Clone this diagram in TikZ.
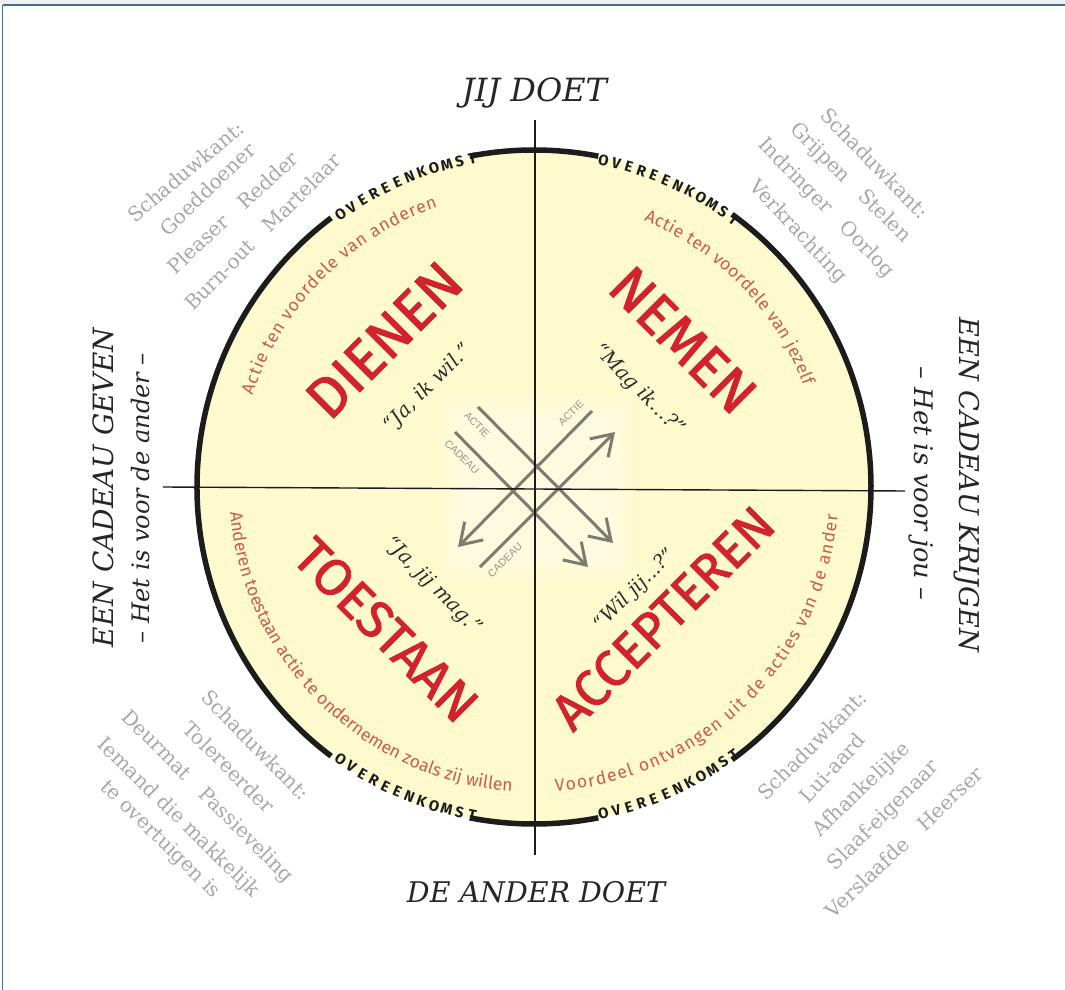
\documentclass[tikz,border=0pt]{standalone}
\usepackage{fontspec}
\usetikzlibrary{arrows.meta,decorations.text}
\newfontfamily\fira{Fira Sans}
\newfontfamily\firamed{Fira Sans}[FakeBold=1.6]
\newfontfamily\dvs{DejaVu Serif}
\newfontfamily\libs{Liberation Sans}
\definecolor{circfill}{RGB}{254,250,206}
\definecolor{titlered}{RGB}{210,34,44}
\definecolor{arcred}{RGB}{202,92,76}
\definecolor{shadowgray}{RGB}{168,168,168}
\definecolor{quotegray}{RGB}{45,45,45}
\definecolor{titleink}{RGB}{38,38,38}
\definecolor{arrowgray}{RGB}{124,124,110}
\definecolor{labelgray}{RGB}{150,150,138}
\definecolor{ink}{RGB}{28,28,28}
\definecolor{framecol}{RGB}{70,110,140}
\definecolor{stripcol}{RGB}{238,241,244}
\newcommand\fitw[2]{\resizebox{#1pt}{!}{#2}}
\newcommand\arcfont{\fira\fontsize{17.5}{17.5}\selectfont\color{arcred}}
\tikzset{
  ring/.style={draw=ink, line width=5.5pt},
  axisline/.style={draw=ink, line width=1.4pt},
  ovk/.style={font=\fira\bfseries\fontsize{15}{15}\selectfont, text=ink, inner sep=0pt},
  side/.style={font=\dvs\itshape, text=titleink, inner sep=0pt},
  quad/.style={font=\firamed, text=titlered, inner sep=0pt},
  quotetxt/.style={font=\dvs\itshape, text=quotegray, inner sep=0pt},
  shadow/.style={font=\dvs\fontsize{20}{20}\selectfont, text=shadowgray, inner sep=0pt},
  arr/.style={draw=arrowgray, line width=3pt, -{Straight Barb[length=20pt,width=26pt]}},
  arrlabel/.style={font=\libs\fontsize{10.5}{10.5}\selectfont, text=labelgray, inner sep=0pt}
}
\begin{document}
\begin{tikzpicture}[x=1pt,y=1pt]
\useasboundingbox (-534,-503) rectangle (531,487);
\fill[white] (-534,-503) rectangle (531,487);
% frame
\fill[stripcol] (-534,482) rectangle (531,487);
\draw[framecol, line width=1.2pt] (-531.3,482) -- (531,482);
\draw[framecol, line width=1.2pt] (-531.3,482) -- (-531.3,-503);

% disc
\fill[circfill] (0,0) circle[radius=337];
\foreach \d in {0,10,20}
  \fill[white, opacity=0.14] (-95+\d,-93+\d) rectangle (101-\d,92-\d);

% thick ring segments
\draw[ring] (79:337) arc[start angle=79, end angle=101, radius=337];
\draw[ring] (-54:337) arc[start angle=-54, end angle=54, radius=337];
\draw[ring] (-101:337) arc[start angle=-101, end angle=-79, radius=337];
\draw[ring] (127:337) arc[start angle=127, end angle=233, radius=337];

% OVEREENKOMST labels
\foreach \ch [count=\i from 0] in {O,V,E,R,E,E,N,K,O,M,S,T}{
  \pgfmathsetmacro\atl{125.4-2.25*\i}
  \pgfmathsetmacro\atr{78.0-2.25*\i}
  \pgfmathsetmacro\abl{-125.4+2.25*\i}
  \pgfmathsetmacro\abr{-78.0+2.25*\i}
  \node[ovk, rotate=\atl-90] (ovtl\i) at (\atl:334) {\ch};
  \node[ovk, rotate=\atr-90] (ovtr\i) at (\atr:334) {\ch};
  \node[ovk, rotate=\abl+90] (ovbl\i) at (\abl:334) {\ch};
  \node[ovk, rotate=\abr+90] (ovbr\i) at (\abr:334) {\ch};
}

% arc texts
\path[decorate, decoration={text along path, text align=fit to path,
  text={|\arcfont|Actie ten voordele van anderen}}]
  (162:296) arc[start angle=162, end angle=109, radius=296];
\path[decorate, decoration={text along path, text align=fit to path,
  text={|\arcfont|Actie ten voordele van jezelf}}]
  (67.6:288) arc[start angle=67.6, end angle=20.6, radius=288];
\path[decorate, decoration={text along path, text align=fit to path,
  text={|\arcfont|Anderen toestaan actie te ondernemen zoals zij willen}}]
  (184.8:305) arc[start angle=184.8, end angle=265.4, radius=305];
\path[decorate, decoration={text along path, text align=fit to path,
  text={|\arcfont|Voordeel ontvangen uit de acties van de ander}}]
  (-86:305) arc[start angle=-86, end angle=-5.3, radius=305];

% central arrows
\coordinate (a1s) at (-56,80);  \coordinate (a1e) at (79,-56);
\coordinate (a2s) at (-79,55);  \coordinate (a2e) at (54,-80);
\coordinate (a3s) at (58,76);   \coordinate (a3e) at (-76,-60);
\coordinate (a4s) at (-54,-80); \coordinate (a4e) at (81,55);
\draw[arr] (a1s) -- (a1e);
\draw[arr] (a2s) -- (a2e);
\draw[arr] (a3s) -- (a3e);
\draw[arr] (a4s) -- (a4e);
\node[arrlabel, rotate=-45] (l1) at (-57,62) {ACTIE};
\node[arrlabel, rotate=-45] (l2) at (-72,30) {CADEAU};
\node[arrlabel, rotate=45] (l3) at (37,74) {ACTIE};
\node[arrlabel, rotate=45] (l4) at (-29,-73) {CADEAU};

% axes
\coordinate (vt) at (1,367);  \coordinate (vb) at (1,-368);
\coordinate (hl) at (-371,0); \coordinate (hr) at (371,-4);
\draw[axisline] (vt) -- (vb);
\draw[axisline] (hl) -- (hr);

% quadrant titles
\node[quad, rotate=45]  (dienen) at (-150,147) {\fitw{193}{DIENEN}};
\node[quad, rotate=-45] (nemen) at (149,147) {\fitw{180}{NEMEN}};
\node[quad, rotate=-45] (toestaan) at (-148,-143) {\fitw{235}{TOESTAAN}};
\node[quad, rotate=45]  (accepteren) at (129,-131) {\fitw{290}{ACCEPTEREN}};

% quotes
\node[quotetxt, rotate=45]  (q1) at (-106,99) {\fitw{115}{“Ja, ik wil.”}};
\node[quotetxt, rotate=-45] (q2) at (105,97) {\fitw{119}{“Mag ik...?”}};
\node[quotetxt, rotate=-45] (q3) at (-101,-99) {\fitw{128}{“Ja, jij mag.”}};
\node[quotetxt, rotate=45]  (q4) at (101,-103) {\fitw{106}{“Wil jij...?”}};

% outer titles
\node[side, anchor=base] (top) at (0.5,385) {\fitw{145}{JIJ DOET}};
\node[side, anchor=base] (bottom) at (2,-415) {\fitw{258}{DE ANDER DOET}};
\node[side, rotate=90] (left) at (-430.5,-0.5) {\fitw{319}{EEN CADEAU GEVEN}};
\node[side, rotate=90] (leftsub) at (-393,-11) {\fitw{290}{– Het is voor de ander –}};
\node[side, rotate=-90] (right) at (433,2) {\fitw{334}{EEN CADEAU KRIJGEN}};
\node[side, rotate=-90] (rightsub) at (387,3.5) {\fitw{233}{– Het is voor jou –}};

% shadow sides
\node[shadow, rotate=40]   (tl1) at (-348.5,315.5) {Schaduwkant:};
\node[shadow, rotate=44]   (tl2) at (-326.5,298) {Goeddoener};
\node[shadow, rotate=42.5] (tl3) at (-301.5,274.5) {Pleaser\quad Redder};
\node[shadow, rotate=45]   (tl4) at (-271.5,255.5) {Burn-out\quad Martelaar};

\node[shadow, rotate=-45.8] (tr1) at (341,324) {Schaduwkant:};
\node[shadow, rotate=-44.7] (tr2) at (316,304) {Grijpen\quad Stelen};
\node[shadow, rotate=-45.8] (tr3) at (292,279) {Indringer\quad Oorlog};
\node[shadow, rotate=-46.8] (tr4) at (264,255) {Verkrachting};

\node[shadow, rotate=-45.5] (bl1) at (-278,-258) {Schaduwkant:};
\node[shadow, rotate=-45]   (bl2) at (-305,-280) {Tolereerder};
\node[shadow, rotate=-45]   (bl3) at (-327,-310) {Deurmat\quad Passieveling};
\node[shadow, rotate=-44.3] (bl4) at (-356,-331) {Iemand die makkelijk};
\node[shadow, rotate=-44.3] (bl5) at (-374,-353) {te overtuigen is};

\node[shadow, rotate=45]   (br1) at (278,-258) {Schaduwkant:};
\node[shadow, rotate=47.5] (br2) at (298,-281) {Lui-aard};
\node[shadow, rotate=44]   (br3) at (328,-303) {Afhankelijke};
\node[shadow, rotate=45]   (br4) at (350,-329) {Slaaf-eigenaar};
\node[shadow, rotate=43.5] (br5) at (370,-355) {Verslaafde\quad Heerser};
\end{tikzpicture}
\end{document}
